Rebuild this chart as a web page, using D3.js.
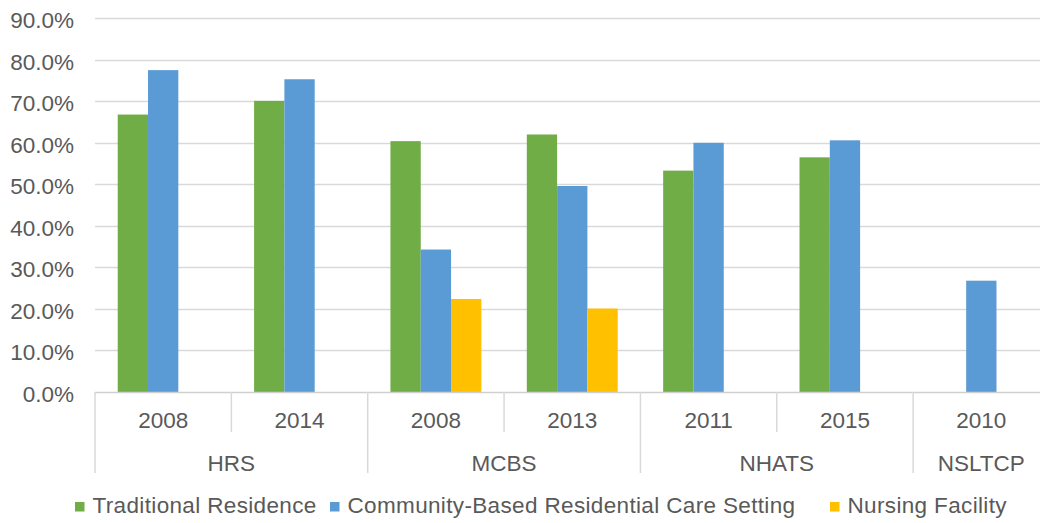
<!DOCTYPE html>
<html>
<head>
<meta charset="utf-8">
<script src="https://cdn.jsdelivr.net/npm/d3@7"></script>
<style>
  html, body { margin: 0; padding: 0; background: #ffffff; }
  svg { display: block; }
  text { font-family: "Liberation Sans", Arial, sans-serif; fill: #595959; }
</style>
</head>
<body>
<svg id="chart" width="1040" height="523"></svg>
<script>
// ---- Data ----
const groups = ["HRS", "HRS", "MCBS", "MCBS", "NHATS", "NHATS", "NSLTCP"];
const years = ["2008", "2014", "2008", "2013", "2011", "2015", "2010"];
const seriesNames = ["Traditional Residence", "Community-Based Residential Care Setting", "Nursing Facility"];
const traditional = [0.668, 0.701, 0.604, 0.620, 0.533, 0.565, null];
const communityBased = [0.775, 0.753, 0.343, 0.496, 0.600, 0.606, 0.268];
const nursing = [null, null, 0.224, 0.201, null, null, null];
const yTicks = [0, 0.1, 0.2, 0.3, 0.4, 0.5, 0.6, 0.7, 0.8, 0.9];
const colors = ["#70AD47", "#5B9BD5", "#FFC000"];

// ---- Layout ----
const svg = d3.select("#chart");
const plotLeft = 95, plotRight = 1049.5, plotTop = 18.2, plotBottom = 392;
const catKeys = years.map((yr, i) => i);
const seriesValues = [traditional, communityBased, nursing];
const fs = 22.5;

const x = d3.scaleBand().domain(catKeys).range([plotLeft, plotRight]).padding(0);
const xs = d3.scaleBand().domain(seriesNames).range([0, x.bandwidth()])
  .paddingInner(0).paddingOuter(0.75);
const y = d3.scaleLinear().domain([0, 0.9]).range([plotBottom, plotTop]);

// gridlines
svg.append("g").selectAll("line").data(yTicks.filter(d => d > 0)).join("line")
  .attr("x1", plotLeft).attr("x2", plotRight)
  .attr("y1", d => Math.round(y(d)) + 0.5).attr("y2", d => Math.round(y(d)) + 0.5)
  .attr("stroke", "#d9d9d9").attr("stroke-width", 1.5);

// y axis labels
const yAxis = d3.axisLeft(y).tickValues(yTicks).tickFormat(d3.format(".1%")).tickSize(0).tickPadding(0);
const yg = svg.append("g").attr("transform", `translate(74,0)`).call(yAxis);
yg.select(".domain").remove();
yg.selectAll("text").attr("font-size", fs).attr("fill", "#595959")
  .attr("font-family", "Liberation Sans, Arial, sans-serif").attr("dy", "0.42em");

// bars
const barData = [];
seriesNames.forEach((s, si) => {
  seriesValues[si].forEach((v, ci) => {
    if (v !== null) barData.push({ s, si, ci, v });
  });
});
svg.append("g").selectAll("rect").data(barData).join("rect")
  .attr("x", d => x(d.ci) + xs(d.s))
  .attr("width", xs.bandwidth())
  .attr("y", d => y(d.v))
  .attr("height", d => y(0) - y(d.v))
  .attr("fill", d => colors[d.si]);

// x axis line
svg.append("line").attr("x1", plotLeft).attr("x2", plotRight)
  .attr("y1", plotBottom + 0.5).attr("y2", plotBottom + 0.5)
  .attr("stroke", "#d0d0d0").attr("stroke-width", 1.5);

// category separators
const axisG = svg.append("g");
catKeys.forEach(ci => {
  const xPos = x(ci);
  const isGroupStart = ci === 0 || groups[ci] !== groups[ci - 1];
  axisG.append("line")
    .attr("x1", xPos).attr("x2", xPos)
    .attr("y1", plotBottom).attr("y2", isGroupStart ? 473 : 432)
    .attr("stroke", "#d9d9d9").attr("stroke-width", 1.5);
});

// year labels
axisG.selectAll("text.year").data(catKeys).join("text")
  .attr("class", "year")
  .attr("x", d => x(d) + x.bandwidth() / 2)
  .attr("y", 420)
  .attr("dy", "0.36em")
  .attr("text-anchor", "middle")
  .attr("font-size", fs)
  .text(d => years[d]);

// group labels
const uniqueGroups = Array.from(new Set(groups));
axisG.selectAll("text.grp").data(uniqueGroups).join("text")
  .attr("class", "grp")
  .attr("x", g => {
    const idx = catKeys.filter(ci => groups[ci] === g);
    return (x(idx[0]) + x(idx[idx.length - 1]) + x.bandwidth()) / 2;
  })
  .attr("y", 463)
  .attr("dy", "0.36em")
  .attr("text-anchor", "middle")
  .attr("font-size", fs)
  .text(g => g);

// legend
const legendX = [75, 330, 830];
const legend = svg.append("g");
seriesNames.forEach((s, i) => {
  legend.append("rect").attr("x", legendX[i]).attr("y", 502).attr("width", 9.5).attr("height", 9.5)
    .attr("fill", colors[i]);
  legend.append("text").attr("x", legendX[i] + 17.5).attr("y", 505).attr("dy", "0.36em")
    .attr("font-size", fs).attr("letter-spacing", 0.35).text(s);
});
</script>
</body>
</html>
